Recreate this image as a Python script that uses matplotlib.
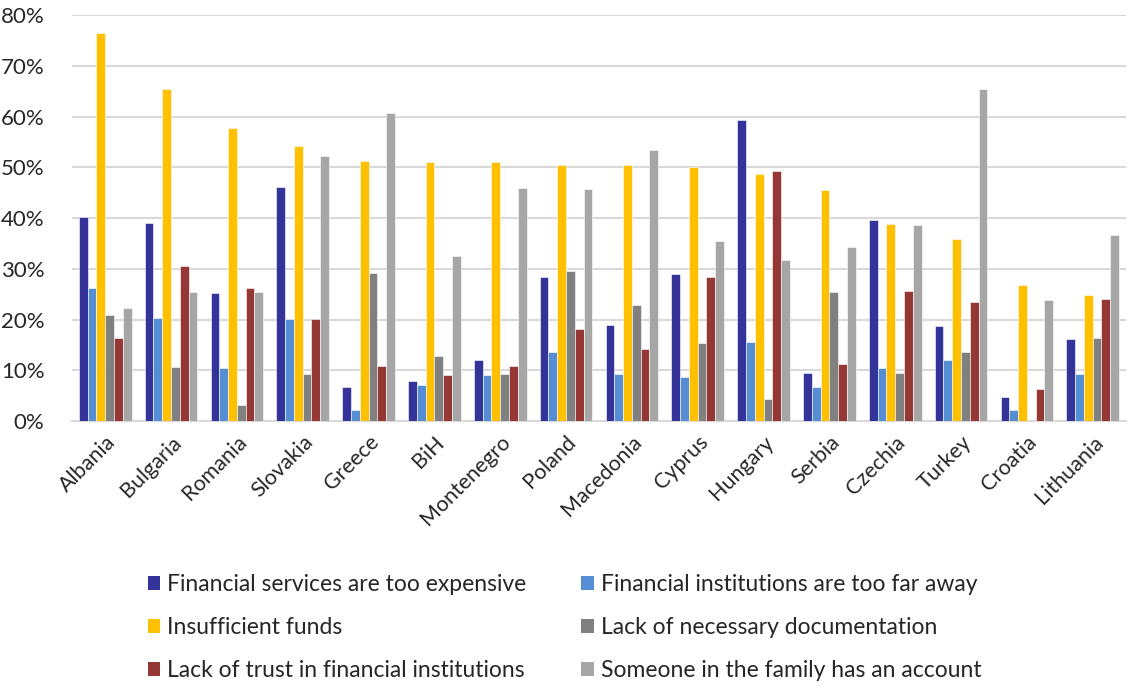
import matplotlib
matplotlib.use("Agg")
import matplotlib.pyplot as plt
import numpy as np
from matplotlib.patches import Patch

countries = ["Albania", "Bulgaria", "Romania", "Slovakia", "Greece", "BiH", "Montenegro",
             "Poland", "Macedonia", "Cyprus", "Hungary", "Serbia", "Czechia", "Turkey",
             "Croatia", "Lithuania"]

too_expensive = [40.2, 39.1, 25.3, 46.2, 6.6, 7.8, 12.0, 28.4, 19.0, 28.9, 59.3, 9.5, 39.6, 18.7, 4.8, 16.2]
too_far = [26.3, 20.3, 10.5, 20.1, 2.2, 7.1, 9.1, 13.5, 9.3, 8.6, 15.5, 6.6, 10.5, 12.0, 2.1, 9.3]
insufficient_funds = [76.5, 65.4, 57.7, 54.2, 51.3, 51.1, 51.0, 50.4, 50.4, 50.1, 48.7, 45.5, 38.9, 35.8, 26.8, 24.8]
lack_documentation = [20.8, 10.6, 3.2, 9.3, 29.1, 12.8, 9.2, 29.6, 22.8, 15.3, 4.3, 25.4, 9.4, 13.6, 0.0, 16.4]
lack_trust = [16.4, 30.5, 26.2, 20.2, 10.9, 9.1, 10.9, 18.1, 14.1, 28.3, 49.3, 11.2, 25.7, 23.4, 6.3, 24.0]
family_account = [22.2, 25.4, 25.4, 52.3, 60.8, 32.5, 46.0, 45.8, 53.4, 35.5, 31.8, 34.3, 38.7, 65.4, 23.9, 36.7]

series_names = ["Financial services are too expensive",
                "Financial institutions are too far away",
                "Insufficient funds",
                "Lack of necessary documentation",
                "Lack of trust in financial institutions",
                "Someone in the family has an account"]
series = [too_expensive, too_far, insufficient_funds, lack_documentation, lack_trust, family_account]
colors = ["#333399", "#558ED5", "#FFC000", "#808080", "#953735", "#A6A6A6"]

plt.rcParams['font.family'] = ['Lato', 'DejaVu Sans']

fig = plt.figure(figsize=(11.29, 6.89), dpi=100)
ax = fig.add_axes([0.064, 0.389, 0.933, 0.589])

n = len(series)
x = np.arange(len(countries))
group_w = 0.8
bw = group_w / n
for i, (vals, c) in enumerate(zip(series, colors)):
    offs = -group_w / 2 + bw * (i + 0.5)
    ax.bar(x + offs, np.array(vals) / 100.0, width=bw, color=c,
           edgecolor="white", linewidth=0.4, zorder=3)

ax.set_xlim(-0.5, len(countries) - 0.5)
ax.set_ylim(0, 0.8)
ax.set_yticks(np.arange(0, 0.81, 0.1))
ax.set_yticklabels([f"{int(round(v*100))}%" for v in np.arange(0, 0.81, 0.1)], fontsize=16, color="#262626")
ax.yaxis.grid(True, color="#d9d9d9", linewidth=1.5, zorder=0)
ax.set_axisbelow(True)
for s in ["top", "right", "left"]:
    ax.spines[s].set_visible(False)
ax.spines["bottom"].set_color("#d9d9d9")
ax.spines["bottom"].set_linewidth(1.5)
ax.tick_params(axis="both", length=0)
ax.tick_params(axis="y", pad=20)
ax.set_xticks(x)
ax.set_xticklabels(countries, rotation=45, ha="right", rotation_mode="anchor",
                   fontsize=15.5, color="#262626")
ax.tick_params(axis="x", pad=8)

handles = [Patch(facecolor=c, edgecolor="none") for c in colors]
order = [0, 2, 4, 1, 3, 5]
fig.legend([handles[i] for i in order], [series_names[i] for i in order],
           ncol=2, loc="lower center", bbox_to_anchor=(0.5, -0.018),
           frameon=False, fontsize=16.5, handlelength=0.55, handleheight=0.55,
           handletextpad=0.3, labelspacing=0.95, columnspacing=2.4,
           labelcolor="#262626")

fig.savefig("out.png", dpi=100)
